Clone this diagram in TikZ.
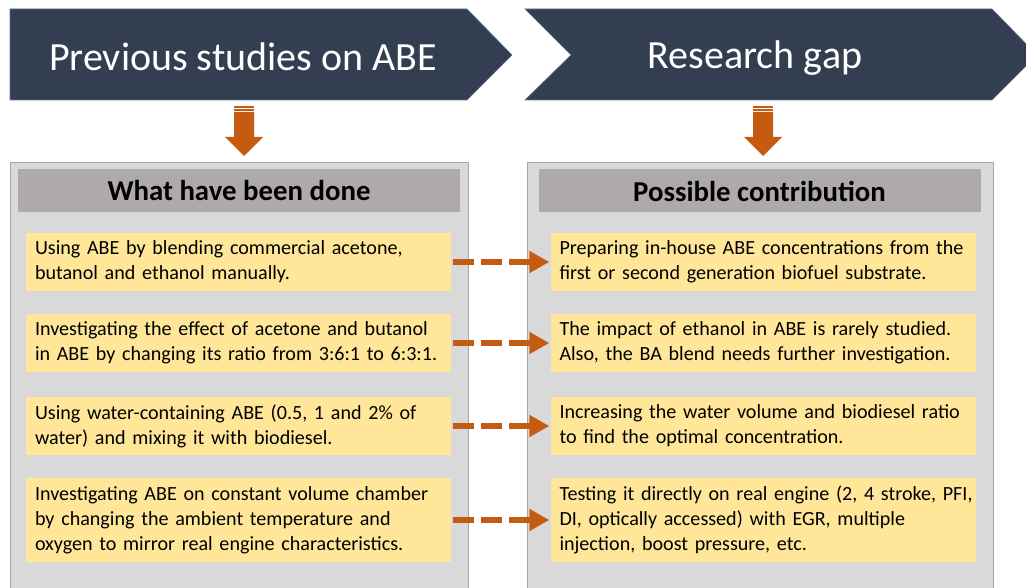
\documentclass[tikz,border=0pt]{standalone}
\usepackage{fontspec}
\setmainfont{Carlito}
\usetikzlibrary{arrows.meta}
\definecolor{navy}{HTML}{333F50}
\definecolor{navyedge}{HTML}{5A7394}
\definecolor{panel}{HTML}{D9D9D9}
\definecolor{paneledge}{HTML}{A6A6A6}
\definecolor{hdr}{HTML}{AEAAAA}
\definecolor{note}{HTML}{FFE699}
\definecolor{rust}{HTML}{C55A11}
\tikzset{
  chev/.style={fill=navy,draw=navyedge,line width=0.6pt},
  title/.style={text=white,font=\fontsize{40}{48}\selectfont},
  panelbox/.style={fill=panel,draw=paneledge,line width=1pt},
  hdrbox/.style={fill=hdr,draw=none,minimum width=442pt,minimum height=43pt,inner sep=0pt,font=\bfseries\fontsize{28.8}{34}\selectfont},
  notebox/.style={fill=note,draw=none,minimum width=425pt,inner sep=0pt,text width=407pt,align=left,font=\fontsize{20.1}{25}\selectfont},
  dasharrow/.style={draw=rust,line width=6pt,dash pattern=on 21pt off 7pt,-{Triangle[length=20pt,width=21pt]}}
}
\begin{document}
\begin{tikzpicture}[x=1pt,y=-1pt]
\useasboundingbox (0,0) rectangle (1026,588);
% chevrons
\path[chev] (10,9) -- (467,9) -- (512,55) -- (467,100) -- (10,100) -- cycle;
\path[chev] (525,9) -- (992,9) -- (1037,55) -- (992,100) -- (525,100) -- (571,55) -- cycle;
\node[title] (t1) at (243,57) {Previous studies on ABE};
\node[title] (t2) at (755,58) {Research gap};
% down arrows
\foreach \cx in {244,763}{
  \fill[rust] (\cx-10,106) rectangle (\cx+10,107.8);
  \fill[rust] (\cx-10,109.3) rectangle (\cx+10,110.8);
  \fill[rust] (\cx-10,112) -- (\cx+10,112) -- (\cx+10,137) -- (\cx+19,137) -- (\cx,156) -- (\cx-19,137) -- (\cx-10,137) -- cycle;
}
% panels
\path[panelbox] (10,163) rectangle (468,600);
\path[panelbox] (527,163) rectangle (993,600);
\node[hdrbox] (h1) at (239,191) {What have been done};
\node[hdrbox] (h2) at (759.5,191) {Possible contribution};
% left notes
\node[notebox,minimum height=58pt] (l1) at (238.5,262) {\mbox{Using ABE by blending commercial acetone,}\\\mbox{butanol and ethanol manually.}};
\node[notebox,minimum height=58pt] (l2) at (238.5,343) {\mbox{Investigating the effect of acetone and butanol}\\\mbox{in ABE by changing its ratio from 3:6:1 to 6:3:1.}};
\node[notebox,minimum height=58pt] (l3) at (238.5,426) {\mbox{Using water-containing ABE (0.5, 1 and 2\% of}\\\mbox{water) and mixing it with biodiesel.}};
\node[notebox,minimum height=84pt] (l4) at (238.5,520) {\mbox{Investigating ABE on constant volume chamber}\\\mbox{by changing the ambient temperature and}\\\mbox{oxygen to mirror real engine characteristics.}};
% right notes
\node[notebox,minimum height=58pt] (r1) at (763,262) {\mbox{Preparing in-house ABE concentrations from the}\\\mbox{first or second generation biofuel substrate.}};
\node[notebox,minimum height=58pt] (r2) at (763,343) {\mbox{The impact of ethanol in ABE is rarely studied.}\\\mbox{Also, the BA blend needs further investigation.}};
\node[notebox,minimum height=58pt] (r3) at (763,426) {\mbox{Increasing the water volume and biodiesel ratio}\\\mbox{to find the optimal concentration.}};
\node[notebox,minimum height=84pt] (r4) at (763,520) {\mbox{Testing it directly on real engine (2, 4 stroke, PFI,}\\\mbox{DI, optically accessed) with EGR, multiple}\\\mbox{injection, boost pressure, etc.}};
% dashed connectors
\foreach \i in {1,2,3,4}{
  \draw[dasharrow] ([xshift=2pt]l\i.east) -- ([xshift=-1pt]r\i.west);
}
\end{tikzpicture}
\end{document}
